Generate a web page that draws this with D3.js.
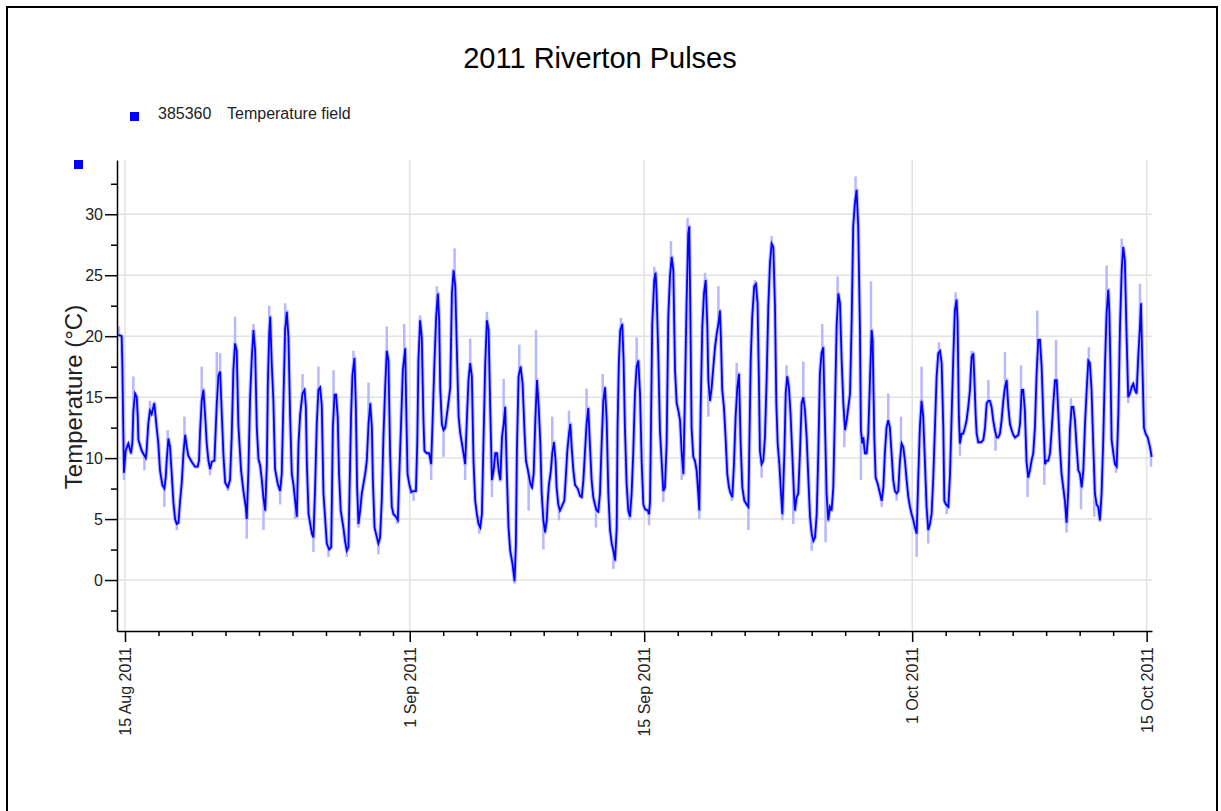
<!DOCTYPE html>
<html>
<head>
<meta charset="utf-8">
<script src="https://cdn.jsdelivr.net/npm/d3@7"></script>
<style>
  html, body { margin: 0; padding: 0; background: #fff; }
  svg { display: block; font-family: "Liberation Sans", Arial, sans-serif; }
</style>
</head>
<body>
<svg id="chart" width="1221" height="811"></svg>
<script>
// ---------------- DATA ----------------
const chartTitle = "2011 Riverton Pulses";
const seriesId = "385360";
const seriesName = "Temperature field";
const yAxisTitle = "Temperature (°C)";

// series start reference: 15 Aug 2011 00:00; readings are [day offset, °C]
const fieldReadings = [
[-0.40,20.1],[-0.20,20.0],[-0.16,17.9],[-0.10,12.1],[-0.06,8.8],[0.04,10.6],[0.20,11.2],[0.36,10.4],[0.44,11.3],[0.50,13.9],[0.60,15.3],[0.70,15.0],[0.76,13.4],[0.80,11.5],[1.00,10.6],[1.24,10.0],[1.29,10.6],[1.39,12.8],[1.49,13.9],[1.59,13.6],[1.75,14.5],[1.89,12.5],[1.99,11.2],[2.09,9.0],[2.23,7.8],[2.35,7.5],[2.43,8.4],[2.49,9.8],[2.59,11.6],[2.69,10.9],[2.79,8.7],[2.89,6.4],[2.99,5.0],[3.09,4.6],[3.19,4.7],[3.29,6.5],[3.39,8.0],[3.49,10.4],[3.59,11.9],[3.69,10.9],[3.78,10.2],[3.98,9.7],[4.18,9.3],[4.34,9.3],[4.42,9.8],[4.48,12.1],[4.58,14.7],[4.68,15.6],[4.78,13.6],[4.88,11.2],[4.98,9.8],[5.08,9.1],[5.18,9.7],[5.34,9.8],[5.48,14.5],[5.58,16.8],[5.68,17.1],[5.78,13.6],[5.88,10.2],[5.98,8.0],[6.14,7.6],[6.27,8.2],[6.37,11.7],[6.47,17.2],[6.57,19.4],[6.67,18.8],[6.77,12.7],[6.93,9.0],[7.07,7.3],[7.21,6.0],[7.27,5.0],[7.37,9.0],[7.47,15.0],[7.57,18.2],[7.67,20.5],[7.77,18.8],[7.87,12.5],[7.97,9.9],[8.07,9.4],[8.17,8.2],[8.27,6.7],[8.37,5.7],[8.47,9.5],[8.53,16.1],[8.61,20.2],[8.67,21.6],[8.76,17.8],[8.86,14.7],[8.96,9.1],[9.12,7.9],[9.26,7.3],[9.36,8.7],[9.46,14.7],[9.56,20.5],[9.66,22.0],[9.76,19.9],[9.86,13.4],[9.96,8.7],[10.06,7.8],[10.16,6.5],[10.26,5.2],[10.36,11.2],[10.46,13.6],[10.60,15.3],[10.72,15.6],[10.80,14.2],[10.86,9.5],[10.96,5.4],[11.16,3.8],[11.25,3.5],[11.35,7.5],[11.45,12.8],[11.55,15.6],[11.65,15.8],[11.75,14.3],[11.85,7.1],
[12.05,3.0],[12.19,2.5],[12.31,2.7],[12.35,6.2],[12.41,12.5],[12.51,15.2],[12.60,15.2],[12.70,13.4],[12.78,8.7],[12.88,5.7],[13.04,4.3],[13.14,3.2],[13.24,2.4],[13.34,2.7],[13.40,6.8],[13.50,13.6],[13.58,16.8],[13.70,18.2],[13.78,14.5],[13.86,7.6],[13.94,4.6],[14.04,5.7],[14.14,7.1],[14.24,7.9],[14.34,8.7],[14.44,9.8],[14.54,12.8],[14.64,14.5],[14.74,12.5],[14.80,8.2],[14.90,4.3],[15.04,3.5],[15.13,3.0],[15.23,3.5],[15.33,6.5],[15.43,11.7],[15.53,15.6],[15.63,18.8],[15.73,18.0],[15.83,10.4],[15.93,6.0],[16.03,5.4],[16.17,5.2],[16.29,4.9],[16.37,8.4],[16.49,13.1],[16.59,17.2],[16.73,19.0],[16.79,14.2],[16.87,8.7],[16.97,7.9],[17.09,7.2],[17.23,7.3],[17.37,7.3],[17.45,11.2],[17.52,18.0],[17.62,21.3],[17.72,19.9],[17.82,13.1],[17.88,10.6],[18.02,10.4],[18.16,10.4],[18.28,9.5],[18.36,12.8],[18.48,18.0],[18.58,21.6],[18.68,23.5],[18.76,21.3],[18.82,15.8],[18.92,12.8],[19.02,12.3],[19.12,12.5],[19.28,14.2],[19.42,15.8],[19.52,23.5],[19.62,25.4],[19.72,24.1],[19.82,18.6],[19.92,13.4],[20.02,12.0],[20.12,11.2],[20.21,10.4],[20.31,9.5],[20.41,13.1],[20.51,16.4],[20.61,17.8],[20.71,16.7],[20.81,9.7],[20.91,6.5],[21.01,5.4],[21.11,4.6],[21.21,4.3],[21.31,5.4],[21.41,11.7],[21.51,17.8],[21.61,21.3],[21.71,20.5],[21.81,13.9],[21.91,8.2],[22.01,9.0],[22.11,10.4],[22.21,10.4],[22.31,9.0],[22.41,8.2],[22.51,11.7],[22.61,12.8],[22.70,14.2],[22.80,8.7],[22.90,4.3],[23.00,2.4],[23.14,1.3],[23.26,-0.1],[23.34,3.0],[23.40,10.6],[23.50,16.7],[23.62,17.5],[23.74,16.1],[23.86,12.0],[23.94,9.8],[24.06,9.0],[24.20,7.9],[24.30,7.6],[24.40,8.7],[24.50,13.1],[24.60,16.4],[24.70,14.2],[24.80,11.2],
[24.88,7.1],[24.98,4.9],[25.08,3.9],[25.18,4.9],[25.24,6.5],[25.31,7.8],[25.43,9.0],[25.51,10.4],[25.61,11.3],[25.71,9.8],[25.77,7.6],[25.87,6.2],[25.97,5.7],[26.07,6.0],[26.23,6.5],[26.31,8.2],[26.41,10.6],[26.51,12.0],[26.59,12.8],[26.67,10.9],[26.77,9.0],[26.87,7.8],[27.03,7.5],[27.17,6.9],[27.27,6.8],[27.37,8.2],[27.46,10.4],[27.56,12.8],[27.66,14.1],[27.76,11.1],[27.86,8.2],[27.96,6.8],[28.06,6.2],[28.16,5.7],[28.26,5.6],[28.36,7.1],[28.46,11.2],[28.56,14.7],[28.66,15.8],[28.76,13.1],[28.86,7.1],[28.96,4.1],[29.06,3.0],[29.16,2.4],[29.26,1.6],[29.36,4.3],[29.41,12.5],[29.49,18.0],[29.57,20.5],[29.69,21.0],[29.77,18.0],[29.85,12.5],[29.95,7.9],[30.05,5.7],[30.15,5.2],[30.25,7.1],[30.35,10.6],[30.45,15.3],[30.55,17.5],[30.65,18.0],[30.75,15.3],[30.85,9.7],[30.95,6.2],[31.05,5.8],[31.21,5.7],[31.29,5.4],[31.35,6.5],[31.41,13.1],[31.48,21.0],[31.60,24.6],[31.68,25.2],[31.74,23.5],[31.84,18.6],[31.94,12.3],[32.04,9.8],[32.14,7.3],[32.24,7.6],[32.34,11.2],[32.44,21.6],[32.54,24.9],[32.64,26.5],[32.74,25.4],[32.84,17.2],[32.94,14.5],[33.04,13.9],[33.14,13.1],[33.24,10.4],[33.34,8.7],[33.43,15.0],[33.53,22.7],[33.63,28.4],[33.69,29.0],[33.75,22.7],[33.83,12.5],[33.93,10.1],[34.03,9.8],[34.13,9.0],[34.23,7.1],[34.29,5.7],[34.37,13.9],[34.47,20.8],[34.57,23.5],[34.67,24.6],[34.77,20.8],[34.83,16.4],[34.93,14.7],[35.03,15.8],[35.13,17.5],[35.23,19.1],[35.33,20.2],[35.43,21.0],[35.52,22.1],[35.58,19.9],[35.66,15.6],[35.76,14.2],[35.86,11.7],[35.96,8.7],[36.06,7.6],[36.16,7.1],[36.26,6.8],[36.36,9.5],[36.46,13.4],[36.56,15.8],[36.66,16.9],[36.76,11.2],[36.86,7.6],[36.98,6.5],[37.12,6.2],
[37.22,6.0],[37.28,11.2],[37.36,18.0],[37.45,21.6],[37.57,24.1],[37.67,24.3],[37.77,22.7],[37.85,16.4],[37.91,10.6],[38.01,9.5],[38.11,9.8],[38.21,11.7],[38.31,16.4],[38.41,22.4],[38.51,26.0],[38.61,27.6],[38.71,27.3],[38.81,22.4],[38.89,14.5],[38.97,11.2],[39.07,9.5],[39.17,7.1],[39.25,5.4],[39.37,10.4],[39.45,15.3],[39.54,16.7],[39.64,15.8],[39.74,13.6],[39.84,10.4],[39.94,7.1],[40.00,5.7],[40.10,6.8],[40.20,7.1],[40.30,10.4],[40.40,14.5],[40.50,15.0],[40.60,13.9],[40.70,11.7],[40.80,8.4],[40.90,5.2],[41.00,3.8],[41.10,3.2],[41.20,3.5],[41.30,5.4],[41.40,10.6],[41.49,16.9],[41.59,18.6],[41.69,19.1],[41.79,13.1],[41.89,7.1],[41.99,4.9],[42.09,6.0],[42.19,5.7],[42.29,7.6],[42.39,13.9],[42.49,20.8],[42.59,23.5],[42.69,22.7],[42.79,18.0],[42.89,14.5],[42.99,12.3],[43.09,13.1],[43.19,14.2],[43.29,15.3],[43.39,21.3],[43.48,29.0],[43.58,30.9],[43.68,32.0],[43.78,29.0],[43.88,20.8],[43.94,12.3],[44.02,11.2],[44.08,11.7],[44.18,10.4],[44.28,10.4],[44.38,12.0],[44.48,16.4],[44.58,20.5],[44.64,19.7],[44.74,11.7],[44.82,8.4],[44.94,7.9],[45.08,7.1],[45.18,6.5],[45.28,7.6],[45.37,10.4],[45.47,12.5],[45.57,13.1],[45.67,12.5],[45.77,10.4],[45.87,8.2],[45.97,7.3],[46.07,7.1],[46.17,7.3],[46.27,9.8],[46.37,11.2],[46.47,10.9],[46.57,9.8],[46.67,8.2],[46.77,6.8],[46.87,6.0],[46.97,5.4],[47.07,4.9],[47.17,4.3],[47.27,3.8],[47.36,8.2],[47.46,12.5],[47.56,14.7],[47.66,13.4],[47.76,9.8],[47.86,6.0],[47.96,4.1],[48.06,4.6],[48.16,5.4],[48.26,8.4],[48.36,12.5],[48.46,16.7],[48.56,18.6],[48.66,18.8],[48.76,17.8],[48.86,12.5],[48.92,6.5],[49.02,6.2],[49.16,6.0],[49.26,8.7],[49.36,13.6],[49.45,18.0],[49.55,22.1],[49.65,23.0],
[49.71,21.3],[49.79,13.4],[49.85,11.2],[49.95,12.0],[50.05,12.0],[50.15,12.5],[50.25,13.1],[50.35,14.2],[50.45,15.6],[50.55,18.3],[50.65,18.6],[50.71,16.7],[50.79,13.6],[50.85,12.0],[50.95,11.3],[51.11,11.3],[51.25,11.5],[51.35,12.5],[51.45,14.5],[51.55,14.7],[51.64,14.7],[51.74,14.2],[51.84,13.1],[51.94,12.3],[52.04,11.7],[52.14,11.7],[52.24,12.0],[52.34,13.1],[52.44,14.7],[52.54,15.8],[52.64,16.4],[52.74,14.2],[52.84,12.8],[52.94,12.3],[53.04,11.9],[53.14,11.7],[53.34,11.9],[53.44,12.8],[53.54,15.6],[53.63,15.6],[53.73,13.9],[53.83,9.7],[53.93,8.4],[54.03,9.0],[54.13,9.8],[54.23,10.4],[54.33,12.5],[54.43,16.9],[54.53,19.7],[54.63,19.7],[54.73,17.5],[54.83,13.4],[54.93,9.5],[55.03,9.8],[55.13,9.8],[55.23,10.4],[55.33,12.3],[55.43,14.5],[55.53,16.4],[55.63,16.4],[55.72,13.9],[55.82,10.9],[55.92,8.7],[56.02,7.6],[56.12,6.5],[56.22,4.7],[56.32,7.3],[56.42,12.3],[56.52,14.2],[56.62,14.2],[56.72,13.1],[56.82,10.9],[56.92,9.0],[57.02,8.7],[57.12,7.6],[57.22,9.0],[57.32,12.8],[57.42,15.6],[57.52,18.0],[57.61,17.8],[57.71,15.6],[57.81,11.2],[57.91,7.1],[58.01,6.2],[58.11,6.0],[58.21,4.9],[58.31,7.1],[58.41,11.5],[58.51,17.5],[58.61,21.9],[58.71,23.8],[58.77,22.1],[58.83,18.3],[58.91,11.5],[59.01,10.4],[59.11,9.5],[59.21,9.3],[59.31,13.6],[59.41,20.8],[59.51,25.4],[59.60,27.3],[59.70,26.2],[59.80,20.2],[59.90,15.0],[60.00,15.3],[60.10,15.8],[60.20,16.1],[60.30,15.6],[60.40,15.3],[60.50,18.3],[60.60,20.8],[60.66,22.7],[60.74,18.0],[60.84,12.5],[60.94,12.0],[61.06,11.7],[61.20,10.9],[61.30,10.1]
];

// raw (light) extremes beyond the plotted line: [day offset, °C]
const rawExtremes = [
[-0.36,20.8],[-0.06,8.2],[0.50,16.7],[1.16,9.0],[1.49,14.7],[2.35,6.0],[2.55,12.3],[3.09,4.1],[3.55,13.4],[4.58,17.5],[5.08,8.6],[5.48,18.7],[5.68,18.6],[6.14,7.3],[6.57,21.6],[7.27,3.4],[7.67,21.0],[8.27,4.1],[8.61,22.5],[9.26,6.2],[9.56,22.7],[10.16,5.0],[10.60,16.9],[11.25,2.3],[11.55,17.5],[12.15,1.9],[12.45,17.2],[13.24,1.9],[13.64,18.8],[13.94,4.3],[14.54,16.2],[15.13,2.1],[15.63,20.8],[16.23,4.6],[16.67,21.0],[17.23,6.5],[17.62,21.7],[18.28,8.2],[18.62,24.1],[19.02,10.1],[19.68,27.2],[20.31,8.2],[20.61,19.8],[21.15,3.8],[21.61,22.0],[21.91,6.8],[22.61,16.5],[23.26,-0.3],[23.54,19.3],[24.10,5.7],[24.54,20.5],[24.98,2.5],[25.51,13.4],[25.91,4.9],[26.51,13.9],[27.27,6.7],[27.56,15.7],[28.12,4.3],[28.52,16.9],[29.16,0.9],[29.61,21.5],[30.11,4.9],[30.55,19.9],[31.29,4.5],[31.60,25.7],[32.14,6.4],[32.60,27.8],[33.24,8.2],[33.59,29.7],[34.29,5.0],[34.63,25.2],[34.83,13.4],[35.43,24.1],[36.22,6.5],[36.52,17.8],[37.22,4.1],[37.61,24.6],[38.01,8.4],[38.61,28.2],[39.25,4.9],[39.50,17.6],[39.90,4.6],[40.50,17.9],[41.00,2.4],[41.63,21.0],[41.83,3.1],[42.55,24.9],[42.95,10.9],[43.62,33.1],[43.94,8.2],[44.54,24.5],[45.18,6.0],[45.57,15.3],[46.07,6.5],[46.33,13.4],[47.27,1.9],[47.56,17.5],[47.96,3.0],[48.60,19.5],[49.06,5.4],[49.59,23.6],[49.85,10.2],[50.55,18.8],[50.91,11.2],[51.55,16.4],[51.98,10.6],[52.54,18.7],[53.14,11.5],[53.50,17.6],[53.89,6.8],[54.47,22.1],[54.89,7.8],[55.59,19.7],[56.22,3.9],[56.48,14.9],[57.08,5.8],[57.55,19.1],[57.87,5.2],[58.61,25.8],[59.17,8.8],[59.51,28.0],[59.90,14.5],[60.60,24.3],[61.26,9.3]
];

const xTickDates = ["2011-08-15", "2011-09-01", "2011-09-15", "2011-10-01", "2011-10-15"];
const xTickLabels = ["15 Aug 2011", "1 Sep 2011", "15 Sep 2011", "1 Oct 2011", "15 Oct 2011"];
const yTickValues = [0, 5, 10, 15, 20, 25, 30];
const yMinorTickValues = [-2.5, 2.5, 7.5, 12.5, 17.5, 22.5, 27.5, 32.5];

// ---------------- DRAW ----------------
const svg = d3.select("#chart");
const seriesStart = Date.UTC(2011, 7, 15);
const dayMs = 86400000;
const toDate = d => new Date(seriesStart + d * dayMs);
const parse = s => new Date(s + "T00:00:00Z");

const x = d3.scaleUtc()
  .domain([new Date(Date.UTC(2011, 7, 14, 12, 32)), new Date(Date.UTC(2011, 9, 15, 7, 41))])
  .range([117, 1152]);
const y = d3.scaleLinear().domain([-4.18, 34.45]).range([631, 160]);

// frame
svg.append("rect").attr("x", 7).attr("y", 7).attr("width", 1210).attr("height", 830)
  .attr("fill", "none").attr("stroke", "#000").attr("stroke-width", 2);

// title
svg.append("text").attr("x", 600).attr("y", 68).attr("text-anchor", "middle")
  .attr("font-size", 29).attr("fill", "#000").text(chartTitle);

// legend
svg.append("rect").attr("x", 130).attr("y", 112).attr("width", 9).attr("height", 9).attr("fill", "#0000ff");
svg.append("text").attr("x", 158).attr("y", 119).attr("font-size", 16).attr("fill", "#222").text(seriesId);
svg.append("text").attr("x", 227).attr("y", 119).attr("font-size", 16).attr("fill", "#222").text(seriesName);
svg.append("rect").attr("x", 74).attr("y", 160).attr("width", 9).attr("height", 9).attr("fill", "#0000ff");

// grid
const majorDates = xTickDates.map(parse);
const grid = svg.append("g").attr("stroke", "#e2e2e2").attr("stroke-width", 1.5);
grid.selectAll("line.h").data(yTickValues).join("line")
  .attr("x1", x.range()[0]).attr("x2", x.range()[1])
  .attr("y1", d => y(d)).attr("y2", d => y(d));
grid.selectAll("line.v").data(majorDates).join("line")
  .attr("x1", d => x(d)).attr("x2", d => x(d))
  .attr("y1", y.range()[1]).attr("y2", y.range()[0]);

// series
const pts = fieldReadings.map(([d, v]) => ({ t: toDate(d), d, v }));
const line = d3.line().x(p => x(p.t)).y(p => y(p.v));
const bis = d3.bisector(p => p.d).left;
const valueAt = d => {
  const i = Math.max(1, Math.min(pts.length - 1, bis(pts, d)));
  const a = pts[i - 1], b = pts[i];
  const k = (d - a.d) / (b.d - a.d);
  return a.v + (b.v - a.v) * Math.max(0, Math.min(1, k));
};

svg.append("path").datum(pts).attr("d", line)
  .attr("fill", "none").attr("stroke", "#bcbcff").attr("stroke-width", 4).attr("stroke-linejoin", "round");

svg.append("g").selectAll("line").data(rawExtremes).join("line")
  .attr("x1", ([d]) => x(toDate(d))).attr("x2", ([d]) => x(toDate(d)))
  .attr("y1", ([d]) => y(valueAt(d))).attr("y2", ([, v]) => y(v))
  .attr("stroke", "#b8b8ff").attr("stroke-width", 2.5);

svg.append("path").datum(pts).attr("d", line)
  .attr("fill", "none").attr("stroke", "#0000ff").attr("stroke-width", 1.8).attr("stroke-linejoin", "miter");

// axes
svg.append("g").attr("transform", "translate(117,0)")
  .call(d3.axisLeft(y).tickValues(yTickValues).tickSize(12).tickSizeOuter(0).tickPadding(2).tickFormat(d3.format("d")));
svg.append("g").attr("transform", "translate(117,0)")
  .call(d3.axisLeft(y).tickValues(yMinorTickValues).tickSize(6).tickSizeOuter(0).tickFormat(""))
  .call(g => g.select(".domain").remove());

const minorDates = d3.utcDay.range(parse("2011-08-16"), parse("2011-10-15"))
  .filter(dt => dt.getUTCDate() % 2 === 1 && dt.getUTCDate() !== 1 && dt.getUTCDate() !== 15);
const xAxis = svg.append("g").attr("transform", "translate(0,631)")
  .call(d3.axisBottom(x).tickValues(majorDates).tickSize(11).tickSizeOuter(0)
    .tickFormat((dt, i) => xTickLabels[i]));
xAxis.selectAll("text")
  .attr("transform", "rotate(-90)").attr("text-anchor", "end")
  .attr("x", -16).attr("y", 0).attr("dy", "0.35em");
svg.append("g").attr("transform", "translate(0,631)")
  .call(d3.axisBottom(x).tickValues(minorDates).tickSize(5).tickSizeOuter(0).tickFormat(""))
  .call(g => g.select(".domain").remove());

svg.selectAll(".tick line, .domain").attr("stroke", "#000").attr("stroke-width", 1.5);
svg.selectAll(".tick text").attr("font-size", 16).attr("fill", "#222")
  .attr("font-family", "'Liberation Sans', Arial, sans-serif");

// y axis title
svg.append("text").attr("transform", "translate(82,397) rotate(-90)")
  .attr("text-anchor", "middle").attr("font-size", 24).attr("fill", "#222").text(yAxisTitle);
</script>
</body>
</html>
